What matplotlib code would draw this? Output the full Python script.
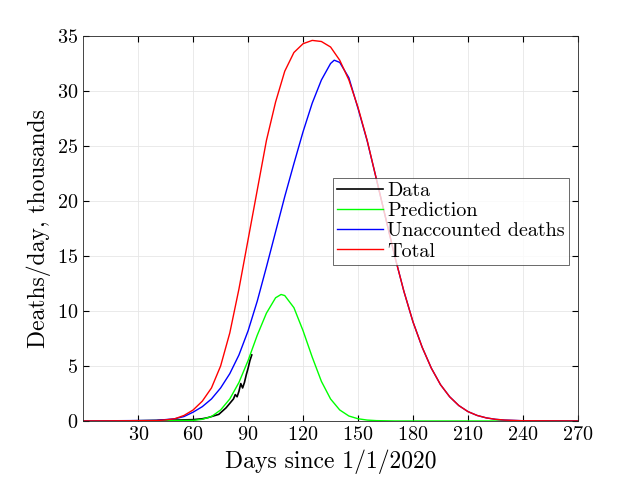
import matplotlib
matplotlib.use("Agg")
import matplotlib.pyplot as plt

plt.rcParams['font.family'] = 'serif'
plt.rcParams['font.serif'] = ['cmr10', 'DejaVu Serif']
plt.rcParams['mathtext.fontset'] = 'cm'
plt.rcParams['axes.formatter.use_mathtext'] = True

total_x = [0, 40, 45, 50, 55, 60, 65, 70, 75, 80, 85, 90, 95, 100, 105, 110, 115, 120, 125, 130, 135, 140, 145, 150, 155, 160, 165, 170, 175, 180, 185, 190, 195, 200, 205, 210, 215, 220, 225, 230, 240, 270]
total_y = [0, 0.03, 0.1, 0.2, 0.5, 1.0, 1.8, 3.0, 5.0, 8.0, 12.0, 16.5, 21.0, 25.5, 29.0, 31.8, 33.5, 34.3, 34.6, 34.5, 34.0, 32.8, 31.0, 28.5, 25.5, 22.0, 18.5, 15.0, 11.8, 9.0, 6.7, 4.8, 3.3, 2.2, 1.4, 0.85, 0.5, 0.28, 0.15, 0.08, 0.02, 0]

unacc_x = [0, 40, 50, 55, 60, 65, 70, 75, 80, 85, 90, 95, 100, 105, 110, 115, 120, 125, 130, 135, 137, 140, 145, 150, 155, 160, 165, 170, 175, 180, 185, 190, 195, 200, 205, 210, 215, 220, 225, 230, 240, 270]
unacc_y = [0, 0.05, 0.2, 0.4, 0.8, 1.3, 2.0, 3.0, 4.3, 6.0, 8.2, 10.9, 14.0, 17.2, 20.4, 23.4, 26.3, 28.9, 31.0, 32.5, 32.8, 32.6, 31.2, 28.4, 25.45, 22.0, 18.5, 15.0, 11.8, 9.0, 6.7, 4.8, 3.3, 2.2, 1.4, 0.85, 0.5, 0.28, 0.15, 0.08, 0.02, 0]

pred_x = [0, 60, 65, 70, 75, 80, 85, 90, 95, 100, 105, 108, 110, 115, 120, 125, 130, 135, 140, 145, 150, 155, 160, 170, 270]
pred_y = [0, 0.05, 0.15, 0.4, 1.0, 2.0, 3.5, 5.5, 7.8, 9.8, 11.2, 11.5, 11.4, 10.3, 8.2, 5.8, 3.6, 2.0, 1.0, 0.45, 0.2, 0.08, 0.03, 0, 0]

data_x = [20, 30, 40, 45, 50, 55, 60, 65, 68, 70, 72, 74, 76, 78, 80, 82, 83, 84, 85, 86, 87, 88, 89, 90, 91, 92]
data_y = [0, 0.02, 0.05, 0.1, 0.08, 0.1, 0.12, 0.2, 0.3, 0.4, 0.5, 0.6, 0.9, 1.2, 1.6, 2.0, 2.4, 2.2, 2.7, 3.4, 3.0, 3.5, 4.2, 4.8, 5.5, 6.0]

fig = plt.figure(figsize=(6.4, 4.8), dpi=100)
ax = fig.add_axes([0.13, 0.123, 0.773, 0.802])
ax.plot(data_x, data_y, color='black', lw=1.2, label='Data')
ax.plot(pred_x, pred_y, color='#00ff00', lw=1.0, label='Prediction')
ax.plot(unacc_x, unacc_y, color='#0000ff', lw=1.0, label='Unaccounted deaths')
ax.plot(total_x, total_y, color='#ff0000', lw=1.0, label='Total')
ax.set_xlim(0, 270)
ax.set_ylim(0, 35)
ax.set_xticks(range(30, 271, 30))
ax.set_yticks(range(0, 36, 5))
ax.grid(True, color='#e6e6e6', lw=0.6)
ax.set_axisbelow(True)
ax.tick_params(direction='in', top=True, right=True, labelsize=14.5, length=4)
for s in ax.spines.values():
    s.set_color('#262626'); s.set_linewidth(0.6)
ax.set_xlabel('Days since 1/1/2020', fontsize=17)
ax.set_ylabel('Deaths/day, thousands', fontsize=17)
leg = ax.legend(loc='upper left', bbox_to_anchor=(0.505, 0.631), fancybox=False,
                edgecolor='#262626', fontsize=14.5, borderpad=0.2, labelspacing=0.1,
                handlelength=2.3, handletextpad=0.2, borderaxespad=0)
leg.get_frame().set_linewidth(0.6)
fig.savefig('out.png', dpi=100)
